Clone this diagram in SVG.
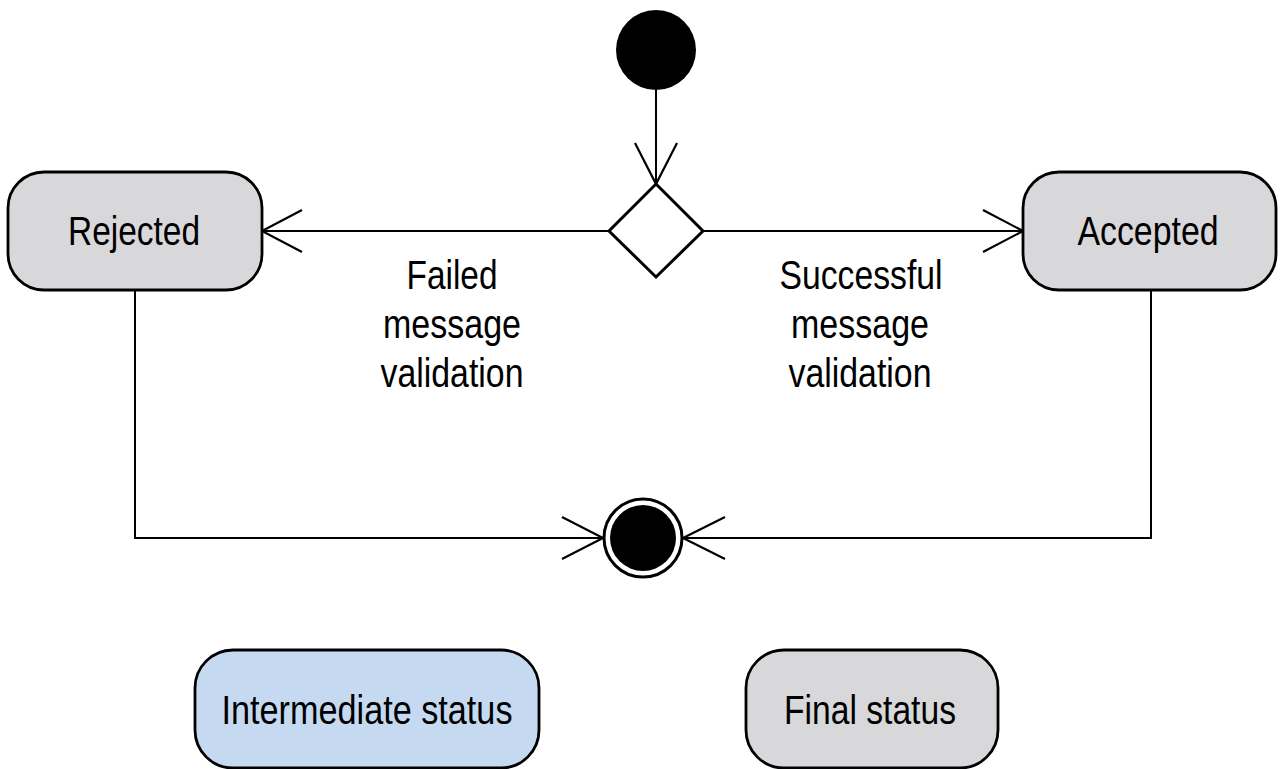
<svg xmlns="http://www.w3.org/2000/svg" width="1280" height="769" viewBox="0 0 1280 769">
<style>
.state{stroke:#000;stroke-width:2.8}
.final{fill:#d8d8da}
.inter{fill:#c5daf1}
.lbl{font-family:"Liberation Sans Narrow","Liberation Sans",Arial,sans-serif;font-size:41px;fill:#000;text-anchor:middle}
.edge{fill:none;stroke:#000;stroke-width:2}
.head{fill:none;stroke:#000;stroke-width:2.2}
</style>
<rect width="1280" height="769" fill="#fff"/>
<g id="connectors">
<line class="edge" x1="656" y1="90" x2="656" y2="184"/>
<polyline class="head" points="635,143 656,184 677,143"/>
<line class="edge" x1="609" y1="231" x2="262" y2="231"/>
<polyline class="head" points="302,210 262,231 302,252"/>
<line class="edge" x1="703" y1="231" x2="1023" y2="231"/>
<polyline class="head" points="983,210 1023,231 983,252"/>
<polyline class="edge" points="135,290 135,538 603,538"/>
<polyline class="head" points="562,517 603,538 562,559"/>
<polyline class="edge" points="1151,290 1151,538 683,538"/>
<polyline class="head" points="725,517 683,538 725,559"/>
<text class="lbl"><tspan x="452" y="289" textLength="91" lengthAdjust="spacingAndGlyphs">Failed</tspan><tspan x="452" y="338" textLength="138" lengthAdjust="spacingAndGlyphs">message</tspan><tspan x="452" y="387" textLength="143" lengthAdjust="spacingAndGlyphs">validation</tspan></text>
<text class="lbl"><tspan x="861" y="289" textLength="163" lengthAdjust="spacingAndGlyphs">Successful</tspan><tspan x="860" y="338" textLength="138" lengthAdjust="spacingAndGlyphs">message</tspan><tspan x="860" y="387" textLength="143" lengthAdjust="spacingAndGlyphs">validation</tspan></text>
</g>
<g id="start">
<circle cx="656" cy="50" r="40" fill="#000"/>
</g>
<g id="decision">
<polygon points="656,184 703,231 656,277 609,231" fill="#fff" stroke="#000" stroke-width="3"/>
</g>
<g id="rejected">
<rect class="state final" x="8" y="172" width="254" height="118" rx="36"/>
<text class="lbl" x="134" y="245" textLength="132" lengthAdjust="spacingAndGlyphs">Rejected</text>
</g>
<g id="accepted">
<rect class="state final" x="1023" y="172" width="253" height="118" rx="36"/>
<text class="lbl" x="1148" y="245" textLength="141" lengthAdjust="spacingAndGlyphs">Accepted</text>
</g>
<g id="end">
<circle cx="643" cy="538" r="39" fill="#fff" stroke="#000" stroke-width="3"/>
<circle cx="643" cy="538" r="33" fill="#000"/>
</g>
<g id="legend-intermediate">
<rect class="state inter" x="195" y="650" width="344" height="118" rx="38"/>
<text class="lbl" x="367" y="724" textLength="291" lengthAdjust="spacingAndGlyphs">Intermediate status</text>
</g>
<g id="legend-final">
<rect class="state final" x="746" y="650" width="252" height="118" rx="38"/>
<text class="lbl" x="870" y="724" textLength="172" lengthAdjust="spacingAndGlyphs">Final status</text>
</g>
</svg>
